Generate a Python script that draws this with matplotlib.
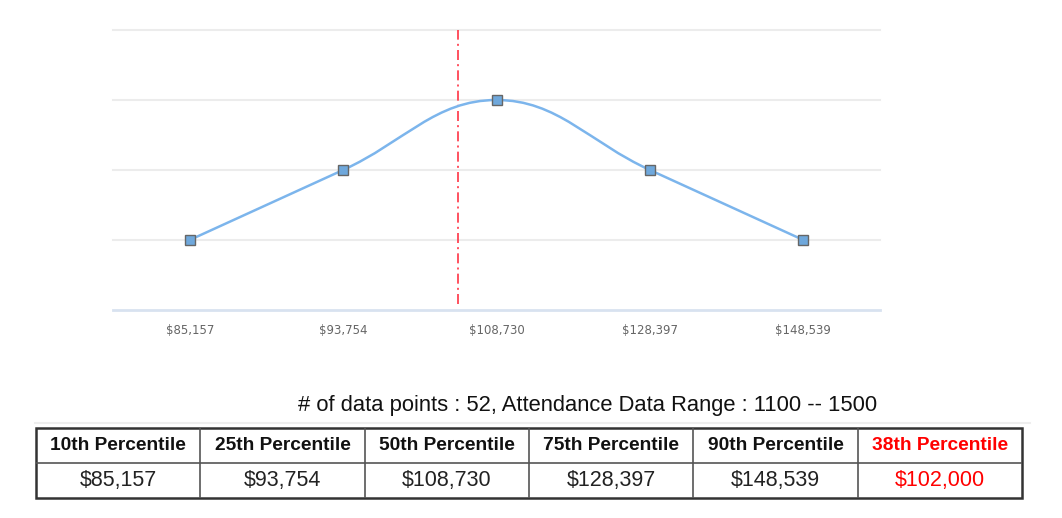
import numpy as np
import matplotlib.pyplot as plt
from matplotlib.path import Path
from matplotlib.patches import PathPatch

# data
categories = ["$85,157", "$93,754", "$108,730", "$128,397", "$148,539"]
counts = [1, 2, 3, 2, 1]
marker_pos = 1.75
pct_labels = ["10th Percentile", "25th Percentile", "50th Percentile",
              "75th Percentile", "90th Percentile", "38th Percentile"]
pct_values = ["$85,157", "$93,754", "$108,730", "$128,397", "$148,539", "$102,000"]
info_text = "# of data points : 52, Attendance Data Range : 1100 -- 1500"

W, H = 1062, 518
fig = plt.figure(figsize=(W / 100, H / 100), dpi=100)
plt.rcParams['font.family'] = ['Liberation Sans', 'DejaVu Sans']


def fx(px):
    return px / W


def fy(py):
    return 1 - py / H


def spline_path(xs, ys, smoothing=1.5):
    # highcharts-like spline control points
    n = len(xs)
    left = [None] * n
    right = [None] * n
    d = smoothing + 1
    for i in range(1, n - 1):
        lx = (smoothing * xs[i] + xs[i - 1]) / d
        ly = (smoothing * ys[i] + ys[i - 1]) / d
        rx = (smoothing * xs[i] + xs[i + 1]) / d
        ry = (smoothing * ys[i] + ys[i + 1]) / d
        corr = (ry - ly) * (rx - xs[i]) / (rx - lx) + ys[i] - ry
        left[i] = (lx, ly + corr)
        right[i] = (rx, ry + corr)
    verts = [(xs[0], ys[0])]
    codes = [Path.MOVETO]
    for i in range(1, n):
        c1 = right[i - 1] if right[i - 1] else (xs[i - 1], ys[i - 1])
        c2 = left[i] if left[i] else (xs[i], ys[i])
        verts += [c1, c2, (xs[i], ys[i])]
        codes += [Path.CURVE4] * 3
    return Path(verts, codes)


ax = fig.add_axes([fx(113), fy(310), fx(880) - fx(113), (310 - 30) / H])
x = np.arange(len(categories))
ax.set_xlim(-0.5, len(categories) - 0.5)
ax.set_ylim(0, 4)
for g in [1, 2, 3, 4]:
    ax.axhline(g, color='#ececec', lw=1.5, zorder=0, clip_on=False)
ax.axhline(0, color='#d8e2f0', lw=2, zorder=0, clip_on=False)
for s in ax.spines.values():
    s.set_visible(False)
ax.set_yticks([])
ax.set_xticks(x)
ax.set_xticklabels(categories, fontsize=8.5, color='#666666', family='DejaVu Sans')
ax.tick_params(axis='x', length=0, pad=10)

ax.add_patch(PathPatch(spline_path(list(x), counts), facecolor='none',
                       edgecolor='#7cb5ec', lw=1.8, zorder=3))
ax.plot(x, counts, ls='none', marker='s', ms=7, mfc='#6fa8dc',
        mec='#666666', mew=1, zorder=4)
ax.axvline(marker_pos, ymin=0.02, ymax=1, color='#ff3344', lw=1.2,
           ls=(0, (6, 2.5, 1.2, 2.5)), zorder=2)

fig.text(fx(877), fy(406), info_text, ha='right', va='center', fontsize=15.8, color='#111111')
fig.add_artist(plt.Line2D([fx(35), fx(1030)], [fy(423), fy(423)], color='#eeeeee', lw=1.5))

# table
tx0, tx1, ty0, ty1 = 36, 1022, 428, 498
tab = fig.add_axes([fx(tx0), fy(ty1), fx(tx1) - fx(tx0), (ty1 - ty0) / H])
tab.set_xlim(0, len(pct_labels))
tab.set_ylim(2, 0)
tab.axis('off')
ncol = len(pct_labels)
tab.vlines(np.arange(1, ncol), 0, 2, color='#555555', lw=1.2)
tab.hlines(1, 0, ncol, color='#555555', lw=1.2)
tab.add_patch(plt.Rectangle((0, 0), ncol, 2, fill=False, edgecolor='#333333', lw=1.8, clip_on=False))
for i in range(ncol):
    col = '#ff0000' if i == ncol - 1 else '#111111'
    tab.text(i + 0.5, 0.5, pct_labels[i], ha='center', va='center',
             fontsize=13.8, fontweight='bold', color=col)
    tab.text(i + 0.5, 1.5, pct_values[i], ha='center', va='center',
             fontsize=15.5, color=('#ff0000' if i == ncol - 1 else '#222222'))

fig.savefig('out.png', dpi=100)
